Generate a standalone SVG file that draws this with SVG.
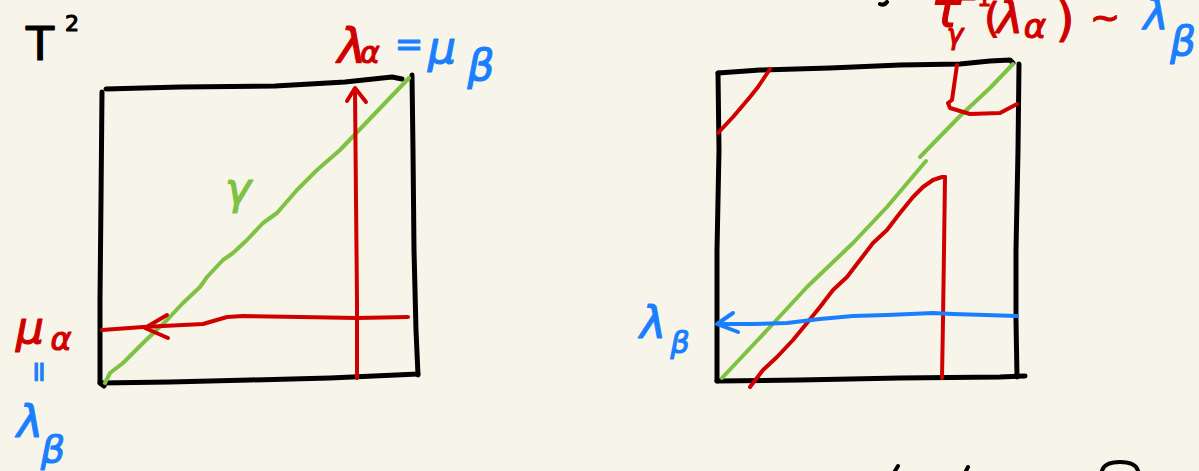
<svg xmlns="http://www.w3.org/2000/svg" width="1199" height="471" viewBox="0 0 1199 471">
<style>
.ink{fill:none;stroke-linecap:round;stroke-linejoin:round;stroke-width:4}
.frame{stroke:#000;stroke-width:5}
.k{stroke:#000}.r{stroke:#d10000}.g{stroke:#7dc242}.b{stroke:#1a7fff}
text{font-family:"DejaVu Sans","Liberation Sans",sans-serif;text-anchor:middle;stroke-width:1.2;stroke-linejoin:round}
.gr{font-style:italic}
.tr{fill:#d10000;stroke:#d10000}.tb{fill:#1a7fff;stroke:#1a7fff}.tg{fill:#7dc242;stroke:#7dc242}.tk{fill:#000;stroke:#000}
</style>
<rect width="1199" height="471" fill="#f7f5e9"/>

<g id="left-square">
<path class="ink frame" d="M106,89 L180,87 L275,86 L345,82 L392,77 L402,79"/>
<path class="ink frame" d="M412,75 L413,150 L414,250 L416,330 L418,375"/>
<path class="ink frame" d="M100,383 L170,382 L250,380 L330,378 L418,374"/>
<path class="ink frame" d="M102,92 L101,200 L100,300 L100,383 L104,386"/>
</g>

<g id="right-square">
<path class="ink frame" d="M718,73 L760,70 L830,68 L900,65 L960,64 L990,61 L1010,60 L1013,63"/>
<path class="ink frame" d="M1019,64 L1018,150 L1016,250 L1016,320 L1017,377"/>
<path class="ink frame" d="M717,381 L800,380 L900,378 L1000,377 L1025,376"/>
<path class="ink frame" d="M718,73 L719,150 L717,250 L717,381"/>
</g>

<g id="connectors">
<path class="ink g" d="M105,383 L110,373 L123,363 L143,343 L167,320 L183,303 L200,287 L207,277 L223,260 L233,253 L247,240 L263,223 L277,213 L297,190 L317,170 L340,150 L409,78"/>
<path class="ink r" d="M357,378 L357,300 L356,200 L355,89"/>
<path class="ink r" d="M347,101 L355,88 L366,102"/>
<path class="ink r" d="M102,330 L143,327 L203,324 L227,317 L243,316 L300,317 L357,318 L408,317"/>
<path class="ink r" d="M167,315 L145,328 L168,338"/>

<path class="ink g" d="M722,378 L770,327 L807,287 L853,243 L887,207 L926,161"/>
<path class="ink g" d="M920,157 L960,116 L990,88 L1013,64"/>
<path class="ink r" d="M750,387 L763,370 L777,357 L793,340 L807,323 L820,307 L833,290 L847,277 L860,260 L873,243 L887,230 L900,213 L913,197 L923,187 L933,180 L942,177 L945,177"/>
<path class="ink r" d="M945,177 L944,250 L943,320 L942,378"/>
<path class="ink r" d="M718,133 L733,117 L750,97 L758,87 L770,69"/>
<path class="ink r" d="M957,65 L952,100 L948,103 L950,108 L970,114 L1000,113 L1017,104"/>
<path class="ink b" d="M1017,316 L953,314 L933,313 L887,315 L853,316 L820,319 L787,323 L753,324 L718,324"/>
<path class="ink b" d="M733,313 L717,324 L738,332"/>
</g>

<g id="fragments">
<path class="ink k" d="M880,4 Q884,6 887,2"/>
<path class="ink k" d="M895,471 L898,466"/>
<path class="ink k" d="M966,471 L968,467"/>
<path class="ink k" d="M1102,471 Q1104,462 1120,462 Q1136,462 1138,471"/>
</g>

<g id="labels-left">
<text class="tk" x="40" y="60" font-size="46" font-family="Liberation Sans" stroke-width="0.8">T</text>
<text class="tk" x="72" y="31" font-size="22">2</text>
<text class="tr gr" x="352" y="63" font-size="48">λ</text>
<text class="tr gr" x="370" y="63" font-size="30">α</text>
<text class="tb" x="409" y="56" font-size="34">=</text>
<text class="tb gr" x="442" y="63" font-size="44">μ</text>
<text class="tb gr" x="481" y="80" font-size="42">β</text>
<text class="tg gr" x="238" y="204" font-size="44">γ</text>
<text class="tr gr" x="30" y="343" font-size="44">μ</text>
<text class="tr gr" x="61" y="350" font-size="32">α</text>
<text class="tb" x="0" y="0" font-size="28" transform="translate(39,372) rotate(90)" dy="9">=</text>
<text class="tb gr" x="30" y="437" font-size="44">λ</text>
<text class="tb gr" x="53" y="462" font-size="38">β</text>
</g>

<g id="labels-right">
<text class="tb gr" x="653" y="338" font-size="44">λ</text>
<text class="tb gr" x="680" y="353" font-size="30">β</text>
<text class="tr gr" x="946" y="27" font-size="50">τ</text>
<text class="tr gr" x="955" y="44" font-size="28">γ</text>
<text class="tr" x="975" y="6" font-size="22">−1</text>
<text class="tr" x="992" y="32" font-size="40">(</text>
<text class="tr gr" x="1010" y="33" font-size="44">λ</text>
<text class="tr gr" x="1035" y="38" font-size="34">α</text>
<text class="tr" x="1065" y="36" font-size="48">)</text>
<text class="tr" x="1105" y="30" font-size="36">~</text>
<text class="tb gr" x="1156" y="30" font-size="42">λ</text>
<text class="tb gr" x="1183" y="55" font-size="40">β</text>
</g>
</svg>
